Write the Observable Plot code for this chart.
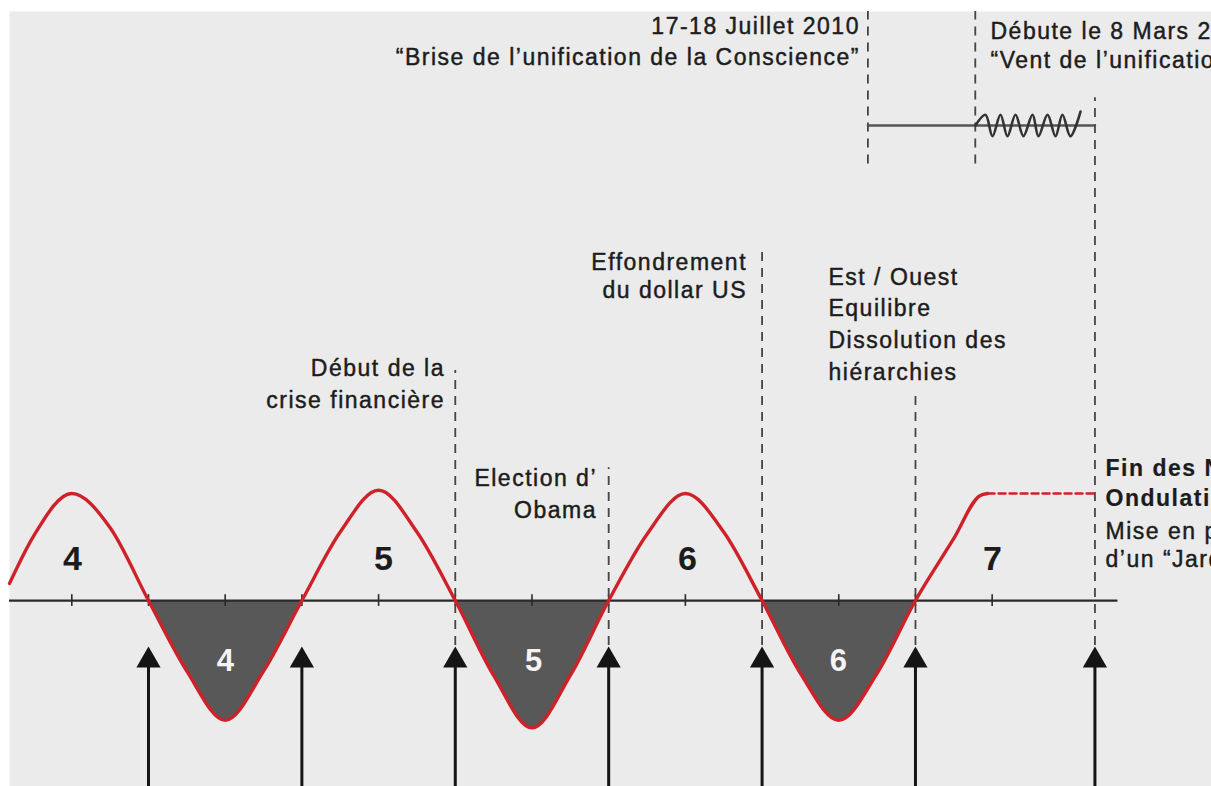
<!DOCTYPE html>
<html>
<head>
<meta charset="utf-8">
<script src="https://cdn.jsdelivr.net/npm/d3@7"></script>
<script src="https://cdn.jsdelivr.net/npm/@observablehq/plot@0.6"></script>
<style>
  html, body { margin: 0; padding: 0; background: #ffffff; overflow: hidden; }
  #chart svg { display: block; overflow: hidden; }
  #chart .lbl text { letter-spacing: 1.5px; }
</style>
</head>
<body>
<div id="chart"></div>
<script>
// ---- data (phase = half-cycle units; value = wave amplitude) ----
const curvePhase = [0.094, 0.25, 0.5, 0.75, 1, 1.25, 1.5, 1.75, 2, 2.25, 2.5, 2.75, 3, 3.25, 3.5, 3.75, 4, 4.25, 4.5, 4.75, 5, 5.25, 5.5, 5.75, 6, 6.25, 6.42, 6.47];
const curveValue = [0.16, 0.6, 1.0, 0.68, 0, -0.66, -1.12, -0.66, 0, 0.64, 1.03, 0.64, 0, -0.7, -1.19, -0.7, 0, 0.62, 1.0, 0.64, 0, -0.68, -1.12, -0.68, 0, 0.58, 0.98, 1.0];
const plateauPhase = [6.47, 7.17];
const plateauValue = [1.0, 1.0];
const nightStarts = [1, 3, 5];

const axisPhase = [0.094, 7.32];
const tickPhase = [0.5, 1, 1.5, 2, 2.5, 3, 3.5, 4, 4.5, 5, 5.5, 6, 6.5];
const arrowPhase = [1, 2, 3, 4, 5, 6, 7.17];

const eventPhase = [3, 4, 5, 6, 7.17, 5.69, 6.39];
const eventTop = [2.15, 1.24, 3.27, 1.93, 4.70, 5.505, 5.505];
const eventBottom = [-0.42, -0.42, -0.42, -0.42, -0.42, 4.08, 4.08];

const bandPhase = [5.69, 7.17];
const bandValue = [4.44, 4.44];
const zigPhase = [6.391, 6.456, 6.502, 6.554, 6.600, 6.652, 6.704, 6.763, 6.802, 6.861, 6.913, 6.958, 7.010, 7.076];
const zigValue = [4.44, 4.54, 4.34, 4.54, 4.34, 4.54, 4.34, 4.54, 4.34, 4.54, 4.34, 4.54, 4.34, 4.57];

const dayLabels = ["4", "5", "6", "7"];
const dayPhase = [0.505, 2.532, 4.514, 6.502];
const nightLabels = ["4", "5", "6"];
const nightPhase = [1.502, 3.51, 5.498];

const rightText = ["17-18 Juillet 2010", "“Brise de l’unification de la Conscience”", "Effondrement", "du dollar US", "Début de la", "crise financière", "Election d’", "Obama"];
const rightPhase = [5.638, 5.638, 4.902, 4.902, 2.933, 2.933, 3.924, 3.924];
const rightValue = [5.36, 5.07, 3.16, 2.90, 2.17, 1.87, 1.14, 0.84];

const leftText = ["Débute le 8 Mars 2011", "“Vent de l’unification”", "Est / Ouest", "Equilibre", "Dissolution des", "hiérarchies", "Mise en place", "d’un “Jardin d’Eden”"];
const leftPhase = [6.489, 6.489, 5.433, 5.433, 5.433, 5.433, 7.239, 7.239];
const leftValue = [5.32, 5.05, 3.02, 2.73, 2.43, 2.13, 0.645, 0.38];

const boldText = ["Fin des Neuf", "Ondulations"];
const boldPhase = [7.239, 7.239];
const boldValue = [1.23, 0.95];

// ---- tables ----
const curve = curvePhase.map((p, i) => ({p, v: curveValue[i]}));
const night = nightStarts.flatMap(s => curve.filter(d => d.p >= s && d.p <= s + 1).map(d => ({...d, seg: s})));
const plateau = plateauPhase.map((p, i) => ({p, v: plateauValue[i]}));
const events = eventPhase.map((p, i) => ({p, top: eventTop[i], bottom: eventBottom[i]}));
const band = bandPhase.map((p, i) => ({p, v: bandValue[i]}));
const zig = zigPhase.map((p, i) => ({p, v: zigValue[i]}));
const days = dayLabels.map((t, i) => ({t, p: dayPhase[i], v: 0.39}));
const nights = nightLabels.map((t, i) => ({t, p: nightPhase[i], v: -0.57}));
const rights = rightText.map((t, i) => ({t, p: rightPhase[i], v: rightValue[i]}));
const lefts = leftText.map((t, i) => ({t, p: leftPhase[i], v: leftValue[i]}));
const bolds = boldText.map((t, i) => ({t, p: boldPhase[i], v: boldValue[i]}));

const RED = "#cf2129";
const INK = "#1c1c1c";
const FONT = "Liberation Sans, Arial, Helvetica, sans-serif";
const labelStyle = {x: "p", y: "v", text: "t", fontSize: 23, fill: INK, stroke: INK, strokeWidth: 0.45, className: "lbl"};

const chart = Plot.plot({
  width: 1211,
  height: 786,
  marginLeft: 9, marginTop: 11, marginRight: 0, marginBottom: 0,
  style: {background: "#ffffff", fontFamily: FONT, overflow: "hidden"},
  x: {domain: [0.0939, 7.9299], axis: null},
  y: {domain: [-1.738, 5.505], axis: null},
  marks: [
    Plot.frame({fill: "#ebebeb", stroke: "none"}),
    // night fills
    Plot.areaY(night, {x: "p", y: "v", z: "seg", fill: "#585858", curve: "monotone-x"}),
    // time axis
    Plot.ruleY([0], {x1: axisPhase[0], x2: axisPhase[1], stroke: "#2a2a2a", strokeWidth: 2.2}),
    Plot.ruleX(tickPhase, {y1: -0.055, y2: 0.055, stroke: "#2a2a2a", strokeWidth: 1.6}),
    // dashed event lines
    Plot.ruleX(events, {x: "p", y1: "bottom", y2: "top", stroke: "#444", strokeWidth: 1.8, strokeDasharray: "9,7"}),
    // top band
    Plot.line(band, {x: "p", y: "v", stroke: "#555", strokeWidth: 2.4}),
    Plot.line(zig, {x: "p", y: "v", stroke: "#333", strokeWidth: 2.6, curve: "catmull-rom"}),
    // arrows
    Plot.ruleX(arrowPhase, {y1: -1.738, y2: -0.56, stroke: "#151515", strokeWidth: 3}),
    Plot.dot(arrowPhase, {x: d => d, y: -0.56, symbol: "triangle", r: 9, fill: "#151515", stroke: "none"}),
    // the wave
    Plot.line(curve, {x: "p", y: "v", stroke: RED, strokeWidth: 3.4, curve: "monotone-x"}),
    Plot.line(plateau, {x: "p", y: "v", stroke: RED, strokeWidth: 2.4, strokeDasharray: "7,4"}),
    // numbers
    Plot.text(days, {x: "p", y: "v", text: "t", fontSize: 34, fontWeight: "bold", fill: INK}),
    Plot.text(nights, {x: "p", y: "v", text: "t", fontSize: 31, fontWeight: "bold", fill: "#f4f4f4"}),
    // annotations
    Plot.text(rights, {...labelStyle, textAnchor: "end"}),
    Plot.text(lefts, {...labelStyle, textAnchor: "start"}),
    Plot.text(bolds, {...labelStyle, textAnchor: "start", fontWeight: "bold", strokeWidth: 0.2})
  ]
});
document.getElementById("chart").append(chart);
</script>
</body>
</html>
